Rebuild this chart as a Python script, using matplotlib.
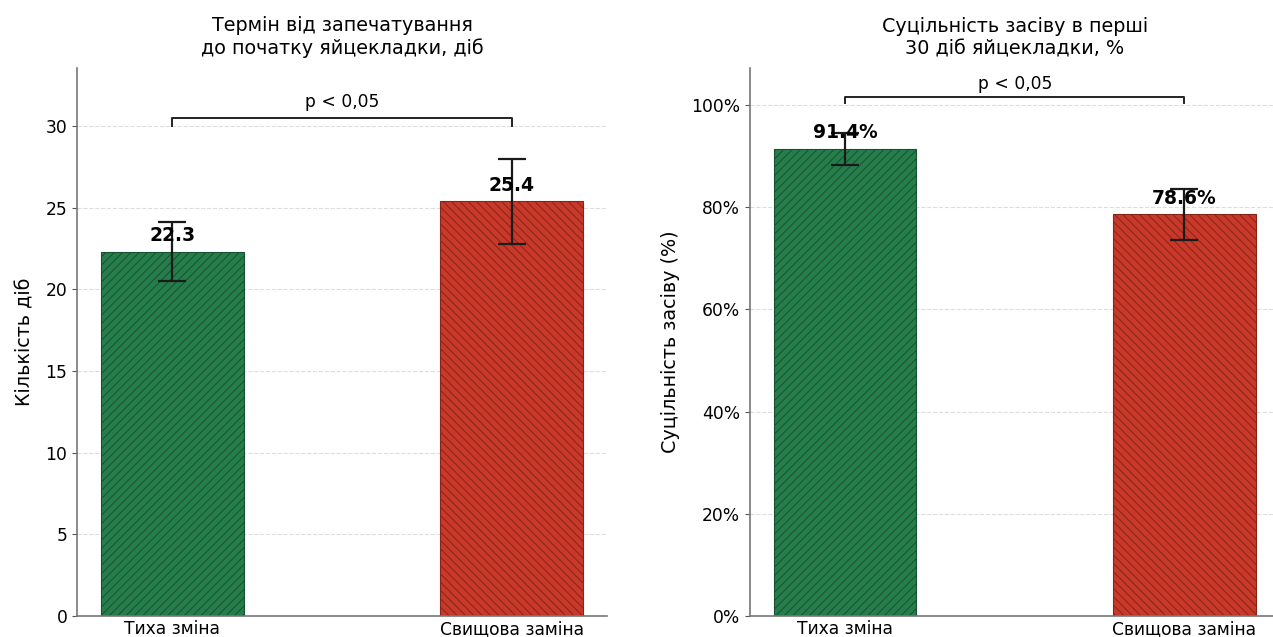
import matplotlib.pyplot as plt
from matplotlib.ticker import PercentFormatter

groups = ["Тиха зміна", "Свищова заміна"]
colors = ["#267d4c", "#c8392a"]
hatch_colors = ["#17502f", "#86241a"]
hatches = ["////", "\\\\\\\\"]

days_mean = [22.3, 25.4]
days_err = [1.8, 2.6]

seed_mean = [91.4, 78.6]
seed_err = [3.1, 5.0]

plt.rcParams['font.family'] = ['DejaVu Sans']
plt.rcParams['hatch.linewidth'] = 0.7

fig = plt.figure(figsize=(12.73, 6.37), dpi=100)
ax1 = fig.add_axes([0.0605, 0.033, 0.4163, 0.860])
ax2 = fig.add_axes([0.589, 0.033, 0.4163, 0.860])

x = [0, 1]


def draw(ax, means, errs, ylim, fmt, bracket, title, ylabel):
    for i in range(2):
        ax.bar(x[i], means[i], width=0.42, color=colors[i], edgecolor=hatch_colors[i],
               linewidth=0.8, hatch=hatches[i], zorder=2)
    ax.errorbar(x, means, yerr=errs, fmt='none', ecolor="#1a1a1a", elinewidth=1.6,
                capsize=10, capthick=1.6, zorder=3)
    for i in range(2):
        ax.text(x[i], means[i] + ylim * 0.012, fmt(means[i]), ha='center', va='bottom',
                fontsize=13.5, fontweight='bold', zorder=4)
    y0, y1, yt = bracket
    ax.plot([0, 0, 1, 1], [y0, y1, y1, y0], color="#222222", lw=1.4)
    ax.text(0.5, yt, "p < 0,05", ha='center', va='bottom', fontsize=12.3)
    ax.set_ylim(0, ylim)
    ax.set_xticks(x)
    ax.set_xticklabels(groups, fontsize=12.3)
    ax.tick_params(axis='y', labelsize=12.3, color="#555555")
    ax.tick_params(axis='x', length=0, pad=3)
    ax.set_title(title, fontsize=13.8, pad=10)
    ax.set_ylabel(ylabel, fontsize=13.8, labelpad=8)
    ax.grid(axis='y', linestyle='--', color="#dddddd", linewidth=0.8, zorder=0)
    ax.set_axisbelow(True)
    for s in ['top', 'right']:
        ax.spines[s].set_visible(False)
    for s in ['left', 'bottom']:
        ax.spines[s].set_color("#777777")
        ax.spines[s].set_linewidth(1.2)


draw(ax1, days_mean, days_err, 33.55, lambda v: f"{v:.1f}", (30.0, 30.5, 30.9),
     "Термін від запечатування\nдо початку яйцекладки, діб", "Кількість діб")
draw(ax2, seed_mean, seed_err, 107.2, lambda v: f"{v:.1f}%", (100.4, 101.6, 102.3),
     "Суцільність засіву в перші\n30 діб яйцекладки, %", "Суцільність засіву (%)")
ax2.yaxis.set_major_formatter(PercentFormatter(100, decimals=0))
ax2.set_yticks([0, 20, 40, 60, 80, 100])

fig.savefig("out.png", dpi=100)
